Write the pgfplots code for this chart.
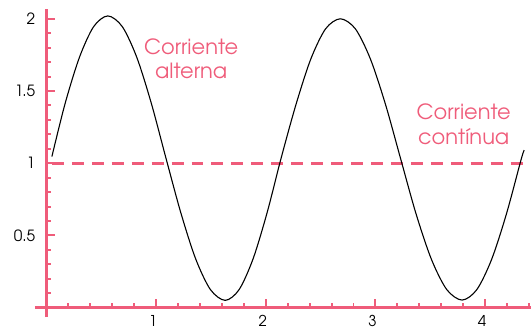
\documentclass[border=0pt]{standalone}
\usepackage{fontspec}
\setmainfont{texgyreadventor-regular.otf}
\usepackage{pgfplots}
\pgfplotsset{compat=1.18}
\definecolor{rosa}{RGB}{239,92,122}
\begin{document}
\begin{tikzpicture}
\begin{axis}[
  scale only axis, width=497pt, height=309pt,
  xmin=-0.105, xmax=4.414, ymin=-0.066, ymax=2.068,
  axis lines=middle,
  axis line style={draw=rosa, line width=3pt, -},
  xtick={1,2,3,4}, ytick={0.5,1,1.5,2},
  minor xtick={0.2,0.4,0.6,0.8,1.2,1.4,1.6,1.8,2.2,2.4,2.6,2.8,3.2,3.4,3.6,3.8,4.2,4.4},
  minor ytick={0.1,0.2,0.3,0.4,0.6,0.7,0.8,0.9,1.1,1.2,1.3,1.4,1.6,1.7,1.8,1.9},
  tick align=inside,
  major tick length=9pt, minor tick length=5pt,
  tick style={draw=rosa, line width=2pt},
  /pgf/number format/assume math mode=true,
  xticklabel style={anchor=north, inner sep=0pt, yshift=-7.5pt, xshift=-3pt, font=\fontsize{15}{16}\selectfont},
  yticklabel style={anchor=east, inner sep=0pt, xshift=-11pt, font=\fontsize{15.5}{16}\selectfont},
  clip=false,
]
\addplot[draw=rosa, line width=3pt, dash pattern=on 12pt off 8pt] coordinates {(0.05,1) (4.414,1)};
\addplot[black, line width=1.1pt, smooth] coordinates {
(0.05,1.046) (0.17,1.412) (0.30,1.731) (0.43,1.945) (0.56,2.020)
(0.6925,1.945) (0.825,1.731) (0.9575,1.412) (1.09,1.035)
(1.225,0.658) (1.36,0.339) (1.495,0.125) (1.63,0.050)
(1.7575,0.125) (1.885,0.339) (2.0125,0.658) (2.14,1.035)
(2.275,1.405) (2.41,1.72) (2.545,1.93) (2.68,2.0)
(2.8175,1.93) (2.955,1.72) (3.0925,1.405) (3.23,1.03)
(3.37,0.65) (3.51,0.335) (3.65,0.125) (3.79,0.052)
(3.925,0.125) (4.06,0.335) (4.195,0.65) (4.33,1.03) (4.357,1.09)
};
\node[font=\fontsize{21}{25}\selectfont, text=rosa, align=center, inner sep=0pt] at (axis cs:1.32,1.723) {Corriente\\alterna};
\node[font=\fontsize{21}{25}\selectfont, text=rosa, align=center, inner sep=0pt] at (axis cs:3.805,1.267) {Corriente\\contínua};
\coordinate (SW) at (rel axis cs:0,0);
\coordinate (NE) at (rel axis cs:1,1);
\end{axis}
\path ([shift={(-35pt,-12pt)}]SW) rectangle ([shift={(0pt,9pt)}]NE);
\end{tikzpicture}
\end{document}
